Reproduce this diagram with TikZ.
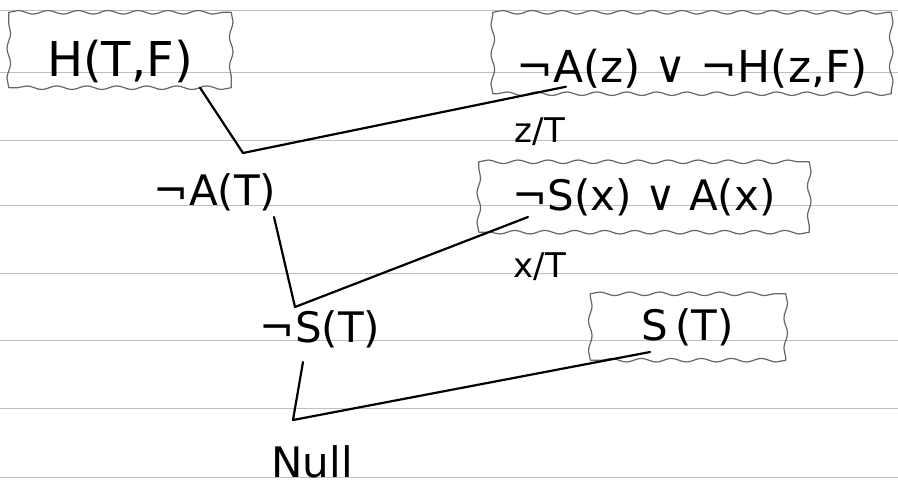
\documentclass[tikz,border=0pt]{standalone}
\usepackage{fontspec}
\setmainfont{DejaVu Sans}
\usetikzlibrary{decorations.pathmorphing,calc}
\tikzset{
  clausebox/.style={inner sep=0pt, font=\fontsize{42}{48}\selectfont},
  frame/.style={draw=black!60, line width=1.2pt, line join=round,
    decoration={snake, amplitude=1.8pt, segment length=30pt}},
  formula/.style={inner sep=0pt, font=\fontsize{42}{48}\selectfont},
  sublabel/.style={inner sep=0pt, font=\fontsize{34}{40}\selectfont},
  link/.style={line width=2.2pt, line cap=round, line join=round},
  ruling/.style={draw=black!25, line width=0.8pt}
}
\newcommand\wavyframe[1]{%
  \draw[frame] (#1.south west)
    decorate{-- (#1.north west)}
    decorate{-- (#1.north east)}
    decorate{-- (#1.south east)}
    decorate{-- (#1.south west)};}
\begin{document}
\begin{tikzpicture}[x=1pt,y=-1pt]
\useasboundingbox (0,0) rectangle (898,488);
\fill[white] (0,0) rectangle (898,488);
% notebook ruling
\foreach \yy in {10,72,140,205,273,340,408,477}
  {\draw[ruling] (0,\yy) -- (898,\yy);}

% clauses in boxes
\node[clausebox, minimum width=222pt, minimum height=74pt, text height=64pt, text depth=11pt,
      font=\fontsize{48}{52}\selectfont] (hbox) at (120,50) {H(T,F)};
\node[clausebox, minimum width=398pt, minimum height=74pt, text height=70pt, text depth=11pt,
      font=\fontsize{44}{50}\selectfont] (cbox) at (692,53) {¬A(z) ∨ ¬H(z,F)};
\node[clausebox, minimum width=330pt, minimum height=70pt] (sbox) at (644,197) {¬S(x) ∨ A(x)};
\node[clausebox, minimum width=195pt, minimum height=66pt] (stbox) at (688,327) {S\,(T)};
\wavyframe{hbox}
\wavyframe{cbox}
\wavyframe{sbox}
\wavyframe{stbox}

% resolvents
\node[formula] (nat) at (215,192) {¬A(T)};
\node[formula] (nst) at (320,329) {¬S(T)};
\node[formula] (null) at (312,462) {Null};

% substitutions
\node[sublabel] (sub1) at (540,132) {z/T};
\node[sublabel] (sub2) at (540,267) {x/T};

% junctions
\coordinate (j1) at (243,153);
\coordinate (j2) at (295,307);
\coordinate (j3) at (293,420);

% connectors
\draw[link] ($(hbox.south)+(80,0)$) -- (j1) -- ($(cbox.south)+(-126,-7)$);
\draw[link] ($(nat)+(59,25)$) -- (j2) -- ($(sbox)+(-116,20)$);
\draw[link] ($(nst)+(-17,33)$) -- (j3) -- ($(stbox)+(-38,25)$);
\end{tikzpicture}
\end{document}
